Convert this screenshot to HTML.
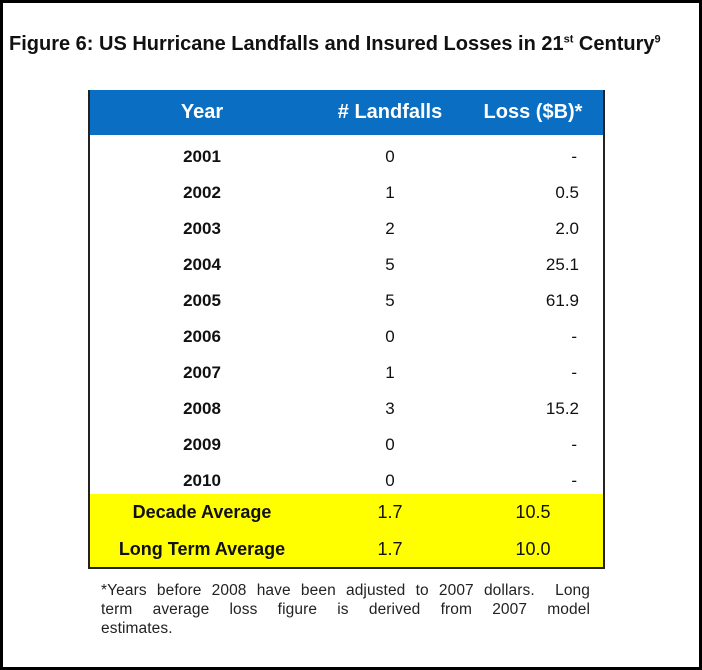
<!DOCTYPE html>
<html><head><meta charset="utf-8">
<style>
body{margin:0;width:702px;height:670px;overflow:hidden;background:#fff;font-family:"Liberation Sans",sans-serif;}
#frame{position:absolute;left:0;top:0;width:696px;height:664px;border:3px solid #000;}
#title{position:absolute;left:9px;top:33px;font-size:20px;font-weight:bold;color:#111;letter-spacing:0px;white-space:nowrap;}
#title sup{font-size:11px;}
#tbl{position:absolute;left:88px;top:90px;width:513px;height:477px;border:2px solid #222;border-top:none;box-sizing:content-box;}
#hdr{position:absolute;left:0;top:0;width:513px;height:45px;background:#0a6fc2;color:#fff;font-weight:bold;font-size:20px;}
.c{position:absolute;white-space:nowrap;}
.row{position:absolute;left:0;width:513px;height:36px;font-size:17px;color:#111;font-weight:bold;}
.yel{background:#ffff00;font-size:18px;}
#note{position:absolute;left:101px;top:581px;width:489px;font-size:15.5px;line-height:19px;color:#222;letter-spacing:0.1px;}
#note div{text-align:justify;text-align-last:justify;white-space:nowrap;}
#note div.last{text-align-last:left;}
</style></head><body>
<div id="frame"></div>
<div id="title">Figure 6: US Hurricane Landfalls and Insured Losses in 21<sup>st</sup> Century<sup>9</sup></div>
<div id="tbl">
<div id="hdr">
<span class="c" style="left:112px;top:11px;transform:translateX(-50%)">Year</span>
<span class="c" style="left:300px;top:11px;transform:translateX(-50%)"># Landfalls</span>
<span class="c" style="left:443px;top:11px;transform:translateX(-50%)">Loss ($B)*</span>
</div>
<div id="rows"></div>
</div>
<div id="note"><div>*Years before 2008 have been adjusted to 2007 dollars. &nbsp;Long</div><div>term average loss figure is derived from 2007 model</div><div class="last">estimates.</div></div>
<script>
const years=["2001","2002","2003","2004","2005","2006","2007","2008","2009","2010","Decade Average","Long Term Average"];
const landfalls=["0","1","2","5","5","0","1","3","0","0","1.7","1.7"];
const losses=["-","0.5","2.0","25.1","61.9","-","-","15.2","-","-","10.5","10.0"];
const rows=document.getElementById('rows');
years.forEach((y,i)=>{
  const r=document.createElement('div');
  
  
  const avg=i>=10;
  r.className='row'+(avg?' yel':'');
  const top=avg?(404+(i-10)*36.5):(49+i*36);
  r.style.top=top+'px';
  if(avg){r.style.height=(i==10?'37px':'36.5px');}
  const a=document.createElement('span');a.className='c';
  
  
  a.textContent=y;a.style.left='112px';a.style.top='8px';a.style.transform='translateX(-50%)';
  const b=document.createElement('span');b.className='c';
  
  
  b.textContent=landfalls[i];b.style.left='300px';b.style.top='8px';b.style.transform='translateX(-50%)';
  b.style.fontWeight='normal';
  const c=document.createElement('span');c.className='c';
  
  
  c.textContent=losses[i];c.style.top='8px';c.style.fontWeight='normal';
  if(avg){c.style.left='443px';c.style.transform='translateX(-50%)';}
  else c.style.right=(losses[i]=='-'?'26px':'24px');
  r.append(a,b,c);rows.appendChild(r);
});
</script>
</body></html>
